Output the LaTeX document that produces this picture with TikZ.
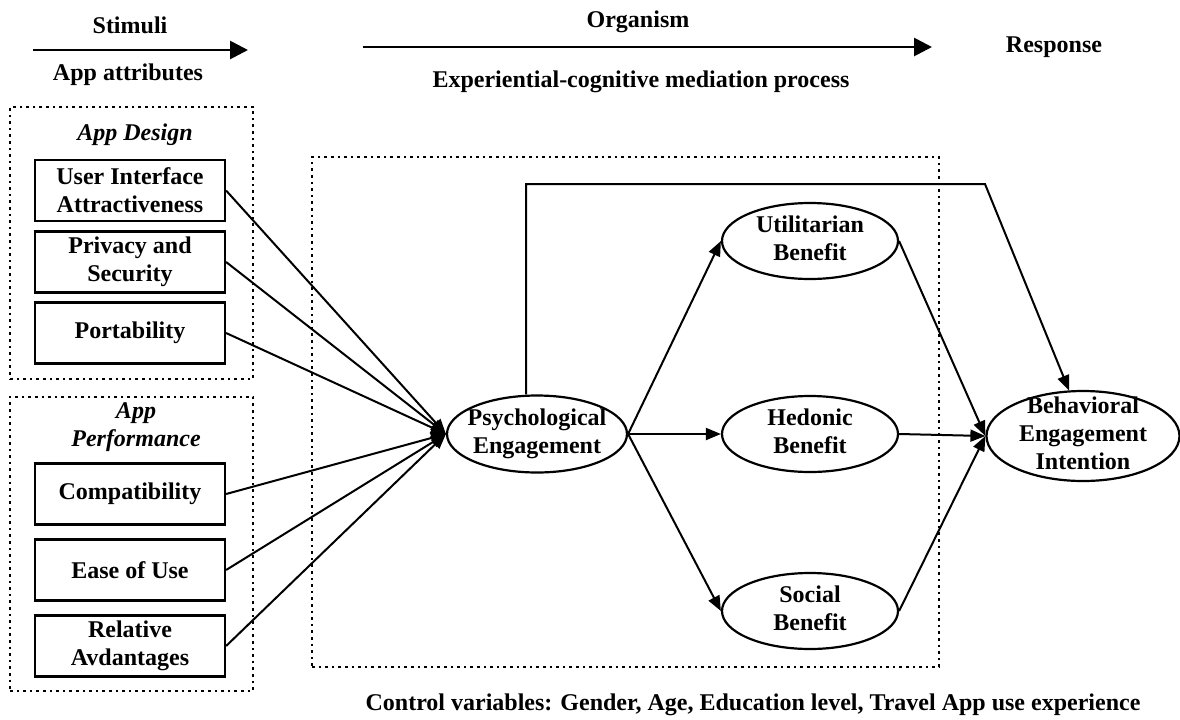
\documentclass[tikz,border=0pt]{standalone}
\usepackage{fontspec}
\setmainfont{Liberation Serif}
\usetikzlibrary{arrows.meta,shapes.geometric}

% text kept inside a fixed-size ellipse
\newcommand{\inell}[1]{\makebox[0pt]{\raisebox{-3pt}[0pt][0pt]{\begin{tabular}{@{}c@{}}#1\end{tabular}}}}

\begin{document}
\begin{tikzpicture}[
    x=0.5pt, y=-0.5pt,
    font=\fontsize{12}{14}\selectfont\bfseries,
    attr/.style={rectangle, draw, line width=1.1pt, minimum width=95pt, minimum height=30.5pt, inner sep=1pt, align=center},
    construct/.style={ellipse, draw, line width=1.1pt, inner sep=0pt, minimum width=88pt, minimum height=38pt},
    group/.style={rectangle, draw, dotted, line width=1.3pt, inner sep=0pt},
    grouplabel/.style={font=\fontsize{12}{14}\selectfont\bfseries\itshape, align=center},
    arrow/.style={-{Triangle[length=7.5pt,width=6pt]}, line width=1pt},
    flow/.style={-{Triangle[length=9pt,width=9pt]}, line width=1.4pt}
]
\useasboundingbox (0,0) rectangle (1180,719);

% Header
\node (stim) at (130,25) {Stimuli};
\coordinate (s0) at (33,50);
\coordinate (s1) at (248,50);
\node (attrib) at (128,75) {App attributes};
\node (org) at (638,22) {Organism};
\coordinate (o0) at (363,47);
\coordinate (o1) at (932,47);
\node (med) at (641,82) {Experiential-cognitive mediation process};
\node (resp) at (1054,47) {Response};
\draw[flow] (s0) -- (s1);
\draw[flow] (o0) -- (o1);

% Dotted groups
\node[group, minimum width=121.5pt, minimum height=136pt] (design) at (131.5,243) {};
\node[group, minimum width=121.5pt, minimum height=147pt] (perf) at (131.5,544) {};
\node[group, minimum width=313.5pt, minimum height=255pt] (organism) at (625.5,412) {};
\node[grouplabel] (designlbl) at (135,135) {App Design};
\node[grouplabel] (perflbl) at (136,427) {App\\Performance};

% App attributes
\node[attr] (uia) at (130,190.5) {User Interface\\Attractiveness};
\node[attr] (priv) at (130,262) {Privacy and\\Security};
\node[attr] (port) at (130,333) {Portability};
\node[attr] (comp) at (130,494) {Compatibility};
\node[attr] (ease) at (130,570) {Ease of Use};
\node[attr] (rel) at (130,646) {Relative\\Avdantages};

% Mediators and response
\node[construct, minimum width=90pt, minimum height=38.5pt] (psy) at (537,434) {\inell{Psychological\\Engagement}};
\node[construct] (util) at (810,241) {\inell{Utilitarian\\Benefit}};
\node[construct] (hed) at (810,434) {\inell{Hedonic\\Benefit}};
\node[construct] (soc) at (810,611) {\inell{Social\\Benefit}};
\node[construct, minimum width=96.5pt, minimum height=45pt] (beh) at (1083,436) {\inell{Behavioral\\Engagement\\Intention}};

% Control variables
\node (ctrl) at (753,705) {Control variables: Gender, Age, Education level, Travel App use experience};

% Arrows
\foreach \a in {uia,priv,port,comp,ease,rel}
    \draw[arrow] (\a.east) -- (psy.west);
\foreach \b in {util,hed,soc} {
    \draw[arrow] (psy.east) -- (\b.west);
    \draw[arrow] (\b.east) -- (beh.west);
}
\coordinate (fbup) at (526,184);
\coordinate (fbright) at (985,184);
\draw[arrow] (psy.north -| fbup) -- (fbup) -- (fbright) -- (beh.107);

\end{tikzpicture}
\end{document}
